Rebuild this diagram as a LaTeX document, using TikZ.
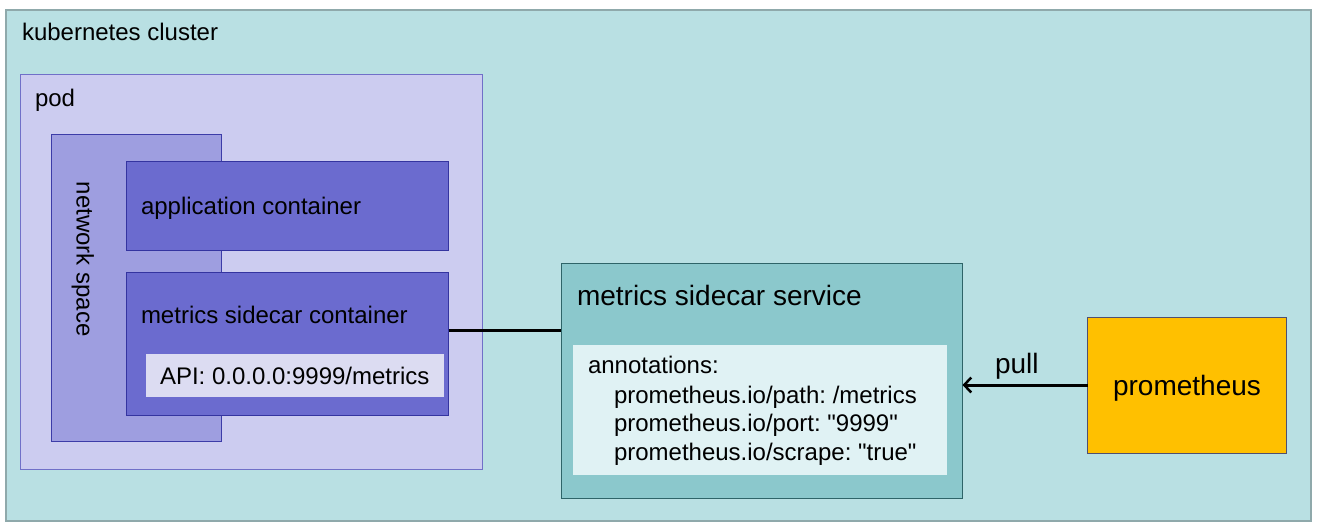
\documentclass[tikz,border=0pt]{standalone}
\usepackage{fontspec}
\setmainfont{Liberation Sans}[Ligatures=TeXOff]
\usetikzlibrary{arrows.meta}
\frenchspacing
\definecolor{clusterfill}{HTML}{B9E0E3}
\definecolor{clusterdraw}{HTML}{8FA9AB}
\definecolor{podfill}{HTML}{CCCCF0}
\definecolor{poddraw}{HTML}{7070C8}
\definecolor{netfill}{HTML}{9E9EE0}
\definecolor{netdraw}{HTML}{3C3CA8}
\definecolor{contfill}{HTML}{6B6BCF}
\definecolor{contdraw}{HTML}{3434A0}
\definecolor{apifill}{HTML}{DCDCF2}
\definecolor{svcfill}{HTML}{8BC8CC}
\definecolor{svcdraw}{HTML}{2E6468}
\definecolor{annfill}{HTML}{E0F2F4}
\definecolor{promfill}{HTML}{FFC000}
\definecolor{promdraw}{HTML}{505070}
\tikzset{
  x=1pt, y=-1pt,
  box/.style={rectangle, inner sep=0pt, outer sep=0pt, anchor=north west},
  txt/.style={inner sep=0pt, outer sep=0pt, anchor=base west, text=black, font=\fontsize{24}{29}\selectfont},
  bigtxt/.style={txt, font=\fontsize{28}{34}\selectfont},
  conn/.style={line width=3pt, black},
}
\newcommand{\boxat}[6]{% name, style, x1, y1, x2, y2
  \node[box, #2, minimum width={(#5-#3)*1pt}, minimum height={(#6-#4)*1pt}] (#1) at (#3,#4) {};}
\begin{document}
\begin{tikzpicture}
\useasboundingbox (0,0) rectangle (1324,531);
% cluster
\boxat{cluster}{fill=clusterfill, draw=clusterdraw, line width=2pt}{6}{10}{1311}{521}
\node[txt] (clusterlbl) at (22,40) {kubernetes cluster};
% pod
\boxat{pod}{fill=podfill, draw=poddraw, line width=0.8pt}{20}{74}{482}{469}
\node[txt] (podlbl) at (35,106) {pod};
% network space
\boxat{net}{fill=netfill, draw=netdraw, line width=0.8pt}{51.5}{134}{221.5}{441}
\node[txt, rotate=-90] (netlbl) at (76.7,181.7) {network space};
% application container
\boxat{app}{fill=contfill, draw=contdraw, line width=0.8pt}{126}{161.5}{448.5}{250}
\node[txt] (applbl) at (141,214) {application container};
% metrics sidecar container
\boxat{side}{fill=contfill, draw=contdraw, line width=0.8pt}{126}{272.5}{448.5}{415}
\node[txt] (sidelbl) at (141,323) {metrics sidecar container};
\boxat{api}{fill=apifill}{146}{354}{444}{396.5}
\node[txt] (apilbl) at (160,384) {API: 0.0.0.0:9999/metrics};
% service
\boxat{svc}{fill=svcfill, draw=svcdraw, line width=0.8pt}{561}{263.5}{962.5}{498}
\node[bigtxt] (svclbl) at (577,305) {metrics sidecar service};
\boxat{ann}{fill=annfill}{572.5}{344.5}{946.5}{475}
\node[txt] (ann1) at (588,373.5) {annotations:};
\node[txt] (ann2) at (614,403) {prometheus.io/path: /metrics};
\node[txt] (ann3) at (614,431.5) {prometheus.io/port: "9999"};
\node[txt] (ann4) at (614,460) {prometheus.io/scrape: "true"};
% prometheus
\boxat{prom}{fill=promfill, draw=promdraw, line width=0.8pt}{1087.5}{317.5}{1286.5}{453.5}
\node[bigtxt, anchor=base] (promlbl) at (prom.center |- 0,395) {prometheus};
% connectors
\coordinate (sideR) at (side.east |- 0,330);
\coordinate (svcL) at (svc.west |- 0,330);
\draw[conn] (sideR) -- (svcL);
\coordinate (promL) at (prom.west |- 0,385);
\coordinate (svcR) at (svc.east |- 0,385);
\draw[conn, -{Straight Barb[length=7pt, width=15pt, line width=2.5pt]}] (promL) -- (svcR);
\node[bigtxt] (pulllbl) at (995,373) {pull};
\end{tikzpicture}
\end{document}
